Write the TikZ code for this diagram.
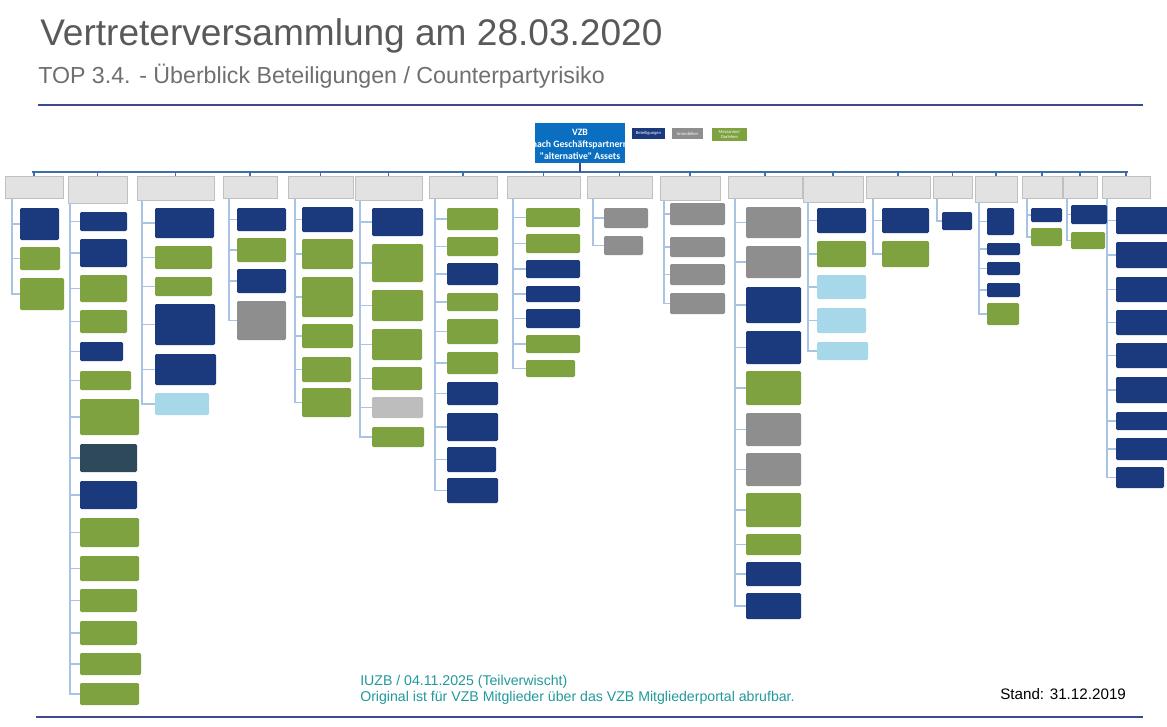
\documentclass[tikz,border=0pt]{standalone}
\usepackage{fontspec}
\setmainfont{Liberation Sans}
\newfontfamily\calfont{Carlito}
\usepackage{xcolor}
\usepackage{tikz}

\definecolor{navyb}{HTML}{1B3A7E}
\definecolor{greenb}{HTML}{7DA23F}
\definecolor{grayb}{HTML}{8E8E8E}
\definecolor{lgrayb}{HTML}{BDBDBD}
\definecolor{cyanb}{HTML}{A6D8EA}
\definecolor{slateb}{HTML}{2E4A5A}
\definecolor{hdrgray}{HTML}{E2E2E2}
\definecolor{stemblue}{HTML}{A9C3E5}
\definecolor{busblue}{HTML}{3F6EA8}
\definecolor{vzbblue}{HTML}{0B6FC1}
\definecolor{rulecol}{HTML}{3D4B8E}
\definecolor{titlegray}{HTML}{595959}
\definecolor{subgray}{HTML}{6F6F6F}
\definecolor{footteal}{HTML}{21999B}

\tikzset{
  box/.style n args={4}{minimum width={(#3-#1)*0.75pt}, minimum height={(#4-#2)*0.75pt},
    at={({(#1+#3)/2},{(#2+#4)/2})}},
  hdr/.style={fill=hdrgray, draw=hdrgray!85!black, line width=0.3pt, inner sep=0pt},
  leaf/.style={inner sep=0pt, rounded corners=1pt},
  stem/.style={draw=stemblue, line width=1.4pt},
  bus/.style={draw=busblue, line width=0.9pt},
  legendbox/.style={inner sep=0pt, text=white, align=center,
    font=\calfont\fontsize{3.4}{3.8}\selectfont},
  foot/.style={inner sep=0pt, text=footteal, font=\fontsize{10.6}{12}\selectfont}
}

\begin{document}
\begin{tikzpicture}[x=0.75pt,y=0.75pt,yscale=-1,xscale=1]
    \useasboundingbox (0,0) rectangle (1167,726);
    % Title
    \node[anchor=base west, inner sep=0pt, text=titlegray, font=\fontsize{27.8}{32}\selectfont] (title) at (40,45) {Vertreterversammlung am 28.03.2020};
    \node[anchor=base west, inner sep=0pt, text=subgray, font=\fontsize{17.4}{20}\selectfont] (subtitle) at (38,83) {TOP 3.4. - Überblick Beteiligungen / Counterpartyrisiko};
    \draw[rulecol, line width=1pt] (38,105) -- (1143,105);
    % Top node and legend
    \node[fill=vzbblue, inner sep=0pt, box={535}{123}{625}{163}] (vzb) {};
    \node[text=white, align=center, inner sep=0pt, font=\calfont\bfseries\fontsize{7.3}{9}\selectfont] (vzbtext) at ([yshift=1.1pt]vzb.center) {VZB\\nach Geschäftspartnern\\"alternative" Assets};
    \node[legendbox, fill=navyb, box={632}{128}{665}{139}] (lgbet) {Beteiligungen};
    \node[legendbox, fill=grayb, box={672}{128}{703}{139}] (lgimm) {Immobilien};
    \node[legendbox, fill=greenb, box={712}{128}{747}{141}] (lgmez) {Mezzanine/\\Darlehen};
    % Bus line
    \coordinate (busL) at (32,172);
    \coordinate (busR) at (1128,172);
    \draw[bus] (busL) -- (busR);
    \draw[draw=rulecol, line width=1.3pt] (vzb.south) -- (vzb.south |- busL);

    % Column 1
    \node[hdr, box={5}{176}{63}{198}] (h1) {};
    \coordinate (s1) at (12,198);
    \foreach \i/\ya/\yb/\xb/\col in {1/208/240/59/navyb, 2/247/270/60/greenb, 3/278/310/64/greenb}
    { \draw[stem] (s1) |- (20,{(\ya+\yb)/2});
      \node[leaf, fill=\col, box={20}{\ya}{\xb}{\yb}] (c1-\i) {}; }

    % Column 2
    \node[hdr, box={68}{176}{127}{203}] (h2) {};
    \coordinate (s2) at (70,203);
    \foreach \i/\ya/\yb/\xb/\col in {1/212/231/127/navyb, 2/239/267/127/navyb, 3/275/302/127/greenb,
      4/310/333/127/greenb, 5/342/361/123/navyb, 6/371/390/131/greenb, 7/399/435/139/greenb,
      8/444/472/137/slateb, 9/481/509/137/navyb, 10/518/547/139/greenb, 11/556/581/139/greenb,
      12/589/612/137/greenb, 13/621/645/137/greenb, 14/653/675/141/greenb, 15/683/705/139/greenb}
    { \draw[stem] (s2) |- (80,{(\ya+\yb)/2});
      \node[leaf, fill=\col, box={80}{\ya}{\xb}{\yb}] (c2-\i) {}; }

    % Column 3
    \node[hdr, box={137}{176}{214}{200}] (h3) {};
    \coordinate (s3) at (142,200);
    \foreach \i/\ya/\yb/\xb/\col in {1/208/238/214/navyb, 2/246/269/212/greenb, 3/277/296/212/greenb,
      4/304/345/215/navyb, 5/354/385/216/navyb, 6/393/415/209/cyanb}
    { \draw[stem] (s3) |- (155,{(\ya+\yb)/2});
      \node[leaf, fill=\col, box={155}{\ya}{\xb}{\yb}] (c3-\i) {}; }

    % Column 4
    \node[hdr, box={223}{176}{277}{198}] (h4) {};
    \coordinate (s4) at (229,198);
    \foreach \i/\ya/\yb/\xb/\col in {1/208/231/286/navyb, 2/238/262/286/greenb, 3/269/293/286/navyb,
      4/301/340/286/grayb}
    { \draw[stem] (s4) |- (237,{(\ya+\yb)/2});
      \node[leaf, fill=\col, box={237}{\ya}{\xb}{\yb}] (c4-\i) {}; }

    % Column 5
    \node[hdr, box={288}{176}{353}{198}] (h5) {};
    \coordinate (s5) at (295,198);
    \foreach \i/\ya/\yb/\xb/\col in {1/207/232/353/navyb, 2/239/269/353/greenb, 3/277/317/353/greenb,
      4/324/348/353/greenb, 5/357/382/351/greenb, 6/388/417/351/greenb}
    { \draw[stem] (s5) |- (302,{(\ya+\yb)/2});
      \node[leaf, fill=\col, box={302}{\ya}{\xb}{\yb}] (c5-\i) {}; }

    % Column 6
    \node[hdr, box={355}{176}{422}{200}] (h6) {};
    \coordinate (s6) at (360,200);
    \foreach \i/\ya/\yb/\xb/\col in {1/208/236/423/navyb, 2/244/282/423/greenb, 3/290/321/423/greenb,
      4/329/360/422/greenb, 5/367/390/422/greenb, 6/397/418/423/lgrayb, 7/427/447/424/greenb}
    { \draw[stem] (s6) |- (372,{(\ya+\yb)/2});
      \node[leaf, fill=\col, box={372}{\ya}{\xb}{\yb}] (c6-\i) {}; }

    % Column 7
    \node[hdr, box={429}{176}{497}{198}] (h7) {};
    \coordinate (s7) at (435,198);
    \foreach \i/\ya/\yb/\xb/\col in {1/208/230/498/greenb, 2/237/256/498/greenb, 3/263/285/498/navyb,
      4/293/311/498/greenb, 5/319/344/498/greenb, 6/352/374/498/greenb, 7/382/405/498/navyb,
      8/413/441/498/navyb, 9/447/472/496/navyb, 10/478/503/498/navyb}
    { \draw[stem] (s7) |- (447,{(\ya+\yb)/2});
      \node[leaf, fill=\col, box={447}{\ya}{\xb}{\yb}] (c7-\i) {}; }

    % Column 8
    \node[hdr, box={507}{176}{580}{198}] (h8) {};
    \coordinate (s8) at (513,198);
    \foreach \i/\ya/\yb/\xb/\col in {1/208/227/580/greenb, 2/234/253/580/greenb, 3/260/278/580/navyb,
      4/286/302/580/navyb, 5/309/328/580/navyb, 6/335/353/580/greenb, 7/360/377/575/greenb}
    { \draw[stem] (s8) |- (526,{(\ya+\yb)/2});
      \node[leaf, fill=\col, box={526}{\ya}{\xb}{\yb}] (c8-\i) {}; }

    % Column 9
    \node[hdr, box={587}{176}{652}{198}] (h9) {};
    \coordinate (s9) at (593,198);
    \foreach \i/\ya/\yb/\xb/\col in {1/208/228/648/grayb, 2/236/255/643/grayb}
    { \draw[stem] (s9) |- (604,{(\ya+\yb)/2});
      \node[leaf, fill=\col, box={604}{\ya}{\xb}{\yb}] (c9-\i) {}; }

    % Column 10
    \node[hdr, box={660}{176}{720}{200}] (h10) {};
    \coordinate (s10) at (664,200);
    \foreach \i/\ya/\yb/\xb/\col in {1/203/225/725/grayb, 2/237/257/725/grayb, 3/264/285/725/grayb,
      4/293/314/725/grayb}
    { \draw[stem] (s10) |- (670,{(\ya+\yb)/2});
      \node[leaf, fill=\col, box={670}{\ya}{\xb}{\yb}] (c10-\i) {}; }

    % Column 11
    \node[hdr, box={728}{176}{802}{198}] (h11) {};
    \coordinate (s11) at (735,198);
    \foreach \i/\ya/\yb/\xb/\col in {1/207/238/801/grayb, 2/246/278/801/grayb, 3/287/323/801/navyb,
      4/331/364/801/navyb, 5/371/405/801/greenb, 6/413/446/801/grayb, 7/453/486/801/grayb,
      8/493/527/801/greenb, 9/534/555/801/greenb, 10/562/586/801/navyb, 11/593/619/801/navyb}
    { \draw[stem] (s11) |- (746,{(\ya+\yb)/2});
      \node[leaf, fill=\col, box={746}{\ya}{\xb}{\yb}] (c11-\i) {}; }

    % Column 12
    \node[hdr, box={803}{176}{863}{202}] (h12) {};
    \coordinate (s12) at (808,202);
    \foreach \i/\ya/\yb/\xb/\col in {1/208/233/866/navyb, 2/241/267/866/greenb, 3/275/299/866/cyanb,
      4/308/333/866/cyanb, 5/342/360/868/cyanb}
    { \draw[stem] (s12) |- (817,{(\ya+\yb)/2});
      \node[leaf, fill=\col, box={817}{\ya}{\xb}{\yb}] (c12-\i) {}; }

    % Column 13
    \node[hdr, box={866}{176}{930}{198}] (h13) {};
    \coordinate (s13) at (873,198);
    \foreach \i/\ya/\yb/\xb/\col in {1/208/233/929/navyb, 2/241/267/929/greenb}
    { \draw[stem] (s13) |- (882,{(\ya+\yb)/2});
      \node[leaf, fill=\col, box={882}{\ya}{\xb}{\yb}] (c13-\i) {}; }

    % Column 14
    \node[hdr, box={933}{176}{972}{198}] (h14) {};
    \coordinate (s14) at (937,198);
    \foreach \i/\ya/\yb/\xb/\col in {1/212/230/972/navyb}
    { \draw[stem] (s14) |- (942,{(\ya+\yb)/2});
      \node[leaf, fill=\col, box={942}{\ya}{\xb}{\yb}] (c14-\i) {}; }

    % Column 15
    \node[hdr, box={975}{176}{1017}{202}] (h15) {};
    \coordinate (s15) at (979,202);
    \foreach \i/\ya/\yb/\xb/\col in {1/208/235/1014/navyb, 2/243/255/1020/navyb, 3/262/275/1020/navyb,
      4/283/297/1020/navyb, 5/303/325/1019/greenb}
    { \draw[stem] (s15) |- (987,{(\ya+\yb)/2});
      \node[leaf, fill=\col, box={987}{\ya}{\xb}{\yb}] (c15-\i) {}; }

    % Column 16
    \node[hdr, box={1022}{176}{1062}{198}] (h16) {};
    \coordinate (s16) at (1027,198);
    \foreach \i/\ya/\yb/\xb/\col in {1/208/222/1062/navyb, 2/228/246/1062/greenb}
    { \draw[stem] (s16) |- (1031,{(\ya+\yb)/2});
      \node[leaf, fill=\col, box={1031}{\ya}{\xb}{\yb}] (c16-\i) {}; }

    % Column 18 (stem lies behind column 17)
    \node[hdr, box={1102}{176}{1150}{198}] (h18) {};
    \coordinate (s18) at (1107,198);
    \foreach \i/\ya/\yb/\xb/\col in {1/207/234/1170/navyb, 2/242/268/1170/navyb, 3/277/302/1170/navyb,
      4/310/335/1170/navyb, 5/343/368/1170/navyb, 6/377/403/1170/navyb, 7/412/430/1170/navyb,
      8/438/460/1170/navyb, 9/467/488/1164/navyb}
    { \draw[stem] (s18) |- (1116,{(\ya+\yb)/2});
      \node[leaf, fill=\col, box={1116}{\ya}{\xb}{\yb}] (c18-\i) {}; }

    % Column 17
    \node[hdr, box={1063}{176}{1097}{198}] (h17) {};
    \coordinate (s17) at (1067,198);
    \foreach \i/\ya/\yb/\xb/\col in {1/205/224/1107/navyb, 2/232/249/1105/greenb}
    { \draw[stem] (s17) |- (1071,{(\ya+\yb)/2});
      \node[leaf, fill=\col, box={1071}{\ya}{\xb}{\yb}] (c17-\i) {}; }

    % ticks from bus to headers
    \foreach \k in {1,...,18}
      \draw[bus] (busL -| h\k.north) -- (h\k.north);

    % Footer
    \node[foot, anchor=base west] (iuzb) at (360,685) {IUZB / 04.11.2025 (Teilverwischt)};
    \node[foot, anchor=base west] (orig) at (360,701) {Original ist für VZB Mitglieder über das VZB Mitgliederportal abrufbar.};
    \node[anchor=base west, inner sep=0pt, font=\fontsize{11.4}{13}\selectfont] (stand) at (1000,699) {Stand: 31.12.2019};
    \draw[rulecol, line width=1pt] (36,717) -- (1143,717);
\end{tikzpicture}
\end{document}
